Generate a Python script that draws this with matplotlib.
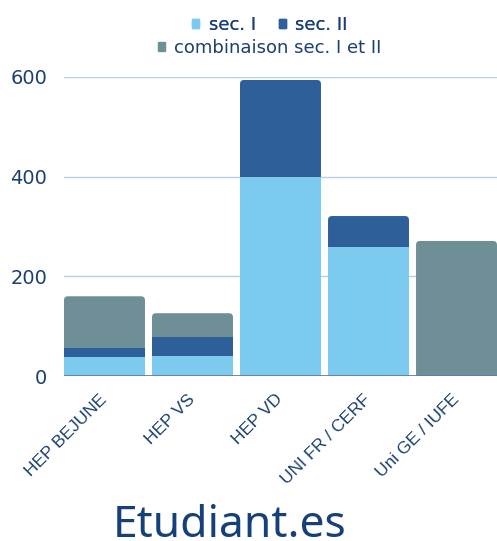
import numpy as np
import matplotlib.pyplot as plt
from matplotlib.patches import FancyBboxPatch, Patch

# data
ecoles = ['HEP BEJUNE', 'HEP VS', 'HEP VD', 'UNI FR / CERF', 'Uni GE / IUFE']
sec1 = [39, 40, 400, 259, 0]
sec2 = [17, 38, 194, 62, 0]
combi = [104, 48, 0, 0, 271]
series_names = ['sec. I', 'sec. II', 'combinaison sec. I et II']
colors = ['#7ccbef', '#2e5f99', '#6f8f96']
txt = '#1b3f73'

plt.rcParams['font.family'] = ['DejaVu Sans']

fig = plt.figure(figsize=(4.97, 5.41), dpi=100)
ax = fig.add_axes([64/497, 1-376/541, 1-64/497, (376-77)/541])

x = np.arange(len(ecoles))
w = 0.92
series = [sec1, sec2, combi]
bottom = np.zeros(len(ecoles))
tops = [None]*len(ecoles)
for vals, c, name in zip(series, colors, series_names):
    vals = np.array(vals, dtype=float)
    b = ax.bar(x, vals, w, bottom=bottom, color=c, label=name, zorder=2)
    for i, v in enumerate(vals):
        if v > 0:
            tops[i] = (c, b.patches[i])
    bottom += vals

# rounded top corners for the top segment of each bar
xpp = (len(ecoles) - 0.08) / 433
ypp = 600 / 299
for i, (c, p) in enumerate(tops):
    p.set_visible(False)
    total = bottom[i]
    lo = p.get_y()
    fb = FancyBboxPatch((x[i] - w/2, lo - 60), w, total - lo + 60,
                        boxstyle='round,pad=0,rounding_size=%f' % (4*xpp),
                        mutation_aspect=ypp/xpp, fc=c, ec='none', zorder=1.5)
    ax.add_patch(fb)

ax.set_xlim(-w/2, len(ecoles) - 1 + w/2)
ax.set_ylim(0, 600)
ax.set_yticks([0, 200, 400, 600])
for yv in [200, 400, 600]:
    ax.axhline(yv, color='#b9cfe3', lw=1, zorder=0)
ax.axhline(0, color='#5f7fa3', lw=2, zorder=3)
for s in ax.spines.values():
    s.set_visible(False)
ax.tick_params(length=0)
ax.tick_params(axis='y', labelsize=14, labelcolor=txt, pad=12)
ax.set_xticks(x)
ax.set_xticklabels(ecoles, rotation=45, ha='right', va='center', rotation_mode='anchor',
                   fontsize=12.5, color=txt, family=['Liberation Sans'])
ax.tick_params(axis='x', pad=15)

handles = [Patch(color=c) for c in colors]
leg1 = fig.legend(handles[:2], series_names[:2], loc='center', ncol=2,
                  bbox_to_anchor=(270/497, 1-25/541), frameon=False,
                  fontsize=13, labelcolor=txt, handlelength=0.4, handleheight=0.4,
                  handletextpad=0.5, columnspacing=1.3)
leg2 = fig.legend(handles[2:], series_names[2:], loc='center',
                  bbox_to_anchor=(270/497, 1-48/541), frameon=False,
                  fontsize=13, labelcolor=txt, handlelength=0.4, handleheight=0.4,
                  handletextpad=0.5)
fig.add_artist(leg1)

fig.text(230/497, 1-537/541, 'Etudiant.es', ha='center', va='baseline',
         fontsize=32, color='#16407a', family=['Noto Sans'])

fig.savefig('out.png', dpi=100)
